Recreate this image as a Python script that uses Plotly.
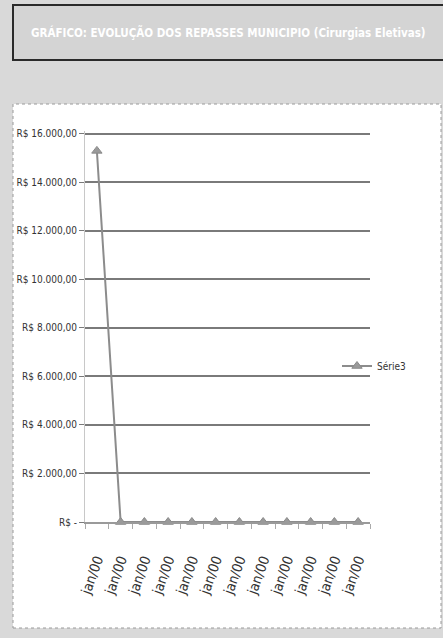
import plotly.graph_objects as go

# ---- data ----
categories = ["jan/00"] * 12
serie3 = [15300, 0, 0, 0, 0, 0, 0, 0, 0, 0, 0, 0]
y_tickvals = [0, 2000, 4000, 6000, 8000, 10000, 12000, 14000, 16000]
y_ticktext = ["R$ -", "R$ 2.000,00", "R$ 4.000,00", "R$ 6.000,00", "R$ 8.000,00",
              "R$ 10.000,00", "R$ 12.000,00", "R$ 14.000,00", "R$ 16.000,00"]
title_text = "GRÁFICO: EVOLUÇÃO DOS REPASSES MUNICIPIO (Cirurgias Eletivas)"
series_name = "Série3"

W, H = 443, 638
L, R, T, B = 85, 370, 131, 522  # plot area in pixels


def px(x):
    return (x - L) / (R - L)


def py(y):
    return (B - y) / (B - T)


NARROW = "DejaVu Sans Condensed, Liberation Sans Narrow, sans-serif"

xs = list(range(len(categories)))

fig = go.Figure()
fig.add_trace(go.Scatter(
    x=xs, y=serie3, name=series_name, mode="lines+markers",
    line=dict(color="#8c8c8c", width=2),
    marker=dict(symbol="triangle-up", size=9, color="#9a9a9a",
                line=dict(color="#8a8a8a", width=1)),
    cliponaxis=False,
))

fig.update_layout(
    width=W, height=H,
    margin=dict(l=L, r=W - R, t=T, b=H - B),
    paper_bgcolor="#d9d9d9",
    plot_bgcolor="white",
    showlegend=True,
    legend=dict(x=px(337), y=py(366), xanchor="left", yanchor="middle",
                bgcolor="rgba(0,0,0,0)", font=dict(family=NARROW, size=10, color="#333")),
    xaxis=dict(
        range=[-0.5, len(categories) - 0.5],
        tickvals=xs, ticktext=categories, tickangle=-70,
        ticks="outside", ticklen=22, tickcolor="rgba(0,0,0,0)",
        showgrid=False, zeroline=False,
        showline=True, linecolor="#9a9a9a", linewidth=2,
        tickfont=dict(family=NARROW, size=14, color="#333"),
        minor=dict(tickvals=[i + 0.5 for i in range(-1, len(categories))],
                   ticks="outside", ticklen=5, tickcolor="#aaa", showgrid=False),
    ),
    yaxis=dict(
        range=[0, 16120],
        tickvals=y_tickvals, ticktext=y_ticktext,
        showgrid=True, gridcolor="#7a7a7a", gridwidth=1.5,
        ticks="outside", ticklen=5, tickcolor="#7a7a7a",
        zeroline=False, showline=True, linecolor="#c8c8c8", linewidth=1,
        tickfont=dict(family=NARROW, size=10, color="#333"),
    ),
    shapes=[
        # white chart area box
        dict(type="rect", xref="paper", yref="paper", layer="below",
             x0=px(13), x1=px(441), y0=py(628), y1=py(104),
             fillcolor="white", line=dict(color="#9a9a9a", width=1, dash="dot")),
        # title box
        dict(type="rect", xref="paper", yref="paper", layer="below",
             x0=px(13), x1=px(447), y0=py(60), y1=py(5),
             fillcolor="#d4d4d4", line=dict(color="#2a2a2a", width=2)),
    ],
    annotations=[
        dict(text="<b>" + title_text + "</b>", xref="paper", yref="paper",
             x=px(228), y=py(33), xanchor="center", yanchor="middle",
             showarrow=False,
             font=dict(family=NARROW, size=11.5, color="#ffffff")),
    ],
)

fig.write_html("out.html")
